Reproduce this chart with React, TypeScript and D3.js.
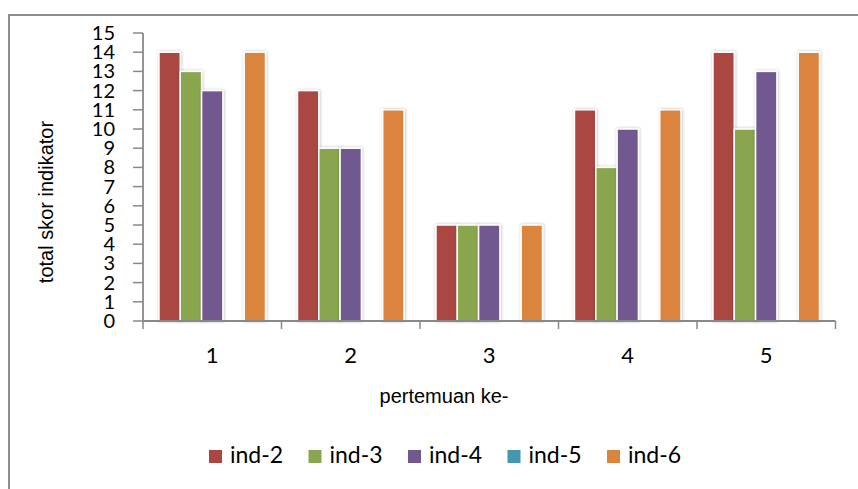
import React from "react";
import * as d3 from "d3";

const categories = ["1", "2", "3", "4", "5"];
const seriesNames = ["ind-2", "ind-3", "ind-4", "ind-5", "ind-6"];
const ind2 = [14, 12, 5, 11, 14];
const ind3 = [13, 9, 5, 8, 10];
const ind4 = [12, 9, 5, 10, 13];
const ind5 = [0, 0, 0, 0, 0];
const ind6 = [14, 11, 5, 11, 14];
const seriesValues = [ind2, ind3, ind4, ind5, ind6];
const colors = ["#AA4643", "#89A54E", "#71588F", "#4198AF", "#DB843D"];
const yTicks = d3.range(0, 16);

export default function App() {
  const W = 858, H = 489;
  const left = 143, right = 835.5, top = 33, bottom = 321;
  const y = d3.scaleLinear().domain([0, 15]).range([bottom, top]);
  const x0 = d3.scaleBand<string>().domain(categories).range([left, right]).padding(0);
  const x1 = d3.scaleBand<string>().domain(seriesNames).range([0, x0.bandwidth()]).paddingInner(0).paddingOuter(0.75);
  const axisColor = "#888888";
  const boundaries = categories.map((c) => x0(c)!).concat([right]);
  const legendX = d3.scaleLinear().domain([0, 4]).range([209, 607]);

  return (
    <svg width={W} height={H} style={{ position: "absolute", left: 0, top: 0 }}>
      <defs>
        <filter id="sh" x="-50%" y="-10%" width="200%" height="120%">
          <feDropShadow dx="0.5" dy="0" stdDeviation="1.6" floodColor="#000" floodOpacity="0.28" />
        </filter>
      </defs>
      <rect x={0} y={0} width={W} height={H} fill="#fff" />
      <path d={`M9,${H} V15 H${W}`} fill="none" stroke="#8c8c8c" strokeWidth={2} />

      {categories.map((c, ci) => (
        <g key={c}>
          {seriesNames.map((s, si) => {
            const v = seriesValues[si][ci];
            if (v <= 0) return null;
            return (
              <rect
                key={s}
                x={x0(c)! + x1(s)!}
                y={y(v)}
                width={x1.bandwidth()}
                height={y(0) - y(v)}
                fill={colors[si]}
                stroke="#fff"
                strokeWidth={1.5}
                filter="url(#sh)"
              />
            );
          })}
        </g>
      ))}

      {/* y axis */}
      <line x1={left} x2={left} y1={top} y2={bottom} stroke={axisColor} strokeWidth={1.8} />
      {yTicks.map((t) => (
        <g key={t}>
          <line x1={left - 10} x2={left} y1={y(t)} y2={y(t)} stroke={axisColor} strokeWidth={1.5} />
          <text x={115} y={y(t) + 7} textAnchor="end" fontFamily="Lato" fontSize={20} fill="#000">
            {t}
          </text>
        </g>
      ))}

      {/* x axis */}
      <line x1={left} x2={right} y1={bottom} y2={bottom} stroke={axisColor} strokeWidth={1.8} />
      {boundaries.map((b, i) => (
        <line key={i} x1={b} x2={b} y1={bottom} y2={bottom + 8} stroke={axisColor} strokeWidth={1.5} />
      ))}
      {categories.map((c) => (
        <text key={c} x={x0(c)! + x0.bandwidth() / 2} y={363} textAnchor="middle" fontFamily="Lato" fontSize={22} fill="#000">
          {c}
        </text>
      ))}

      <text x={444} y={403} textAnchor="middle" fontFamily="Liberation Sans" fontSize={20} fill="#000">
        pertemuan ke-
      </text>
      <text
        transform="translate(53,202) rotate(-90)"
        textAnchor="middle"
        fontFamily="Liberation Sans"
        fontSize={20}
        fill="#000"
      >
        total skor indikator
      </text>

      {/* legend */}
      {seriesNames.map((s, i) => (
        <g key={s} transform={`translate(${legendX(i)},450)`}>
          <rect x={0} y={0} width={13} height={13} fill={colors[i]} />
          <text x={21} y={13} fontFamily="Lato" fontSize={23} fill="#000">
            {s}
          </text>
        </g>
      ))}
    </svg>
  );
}
